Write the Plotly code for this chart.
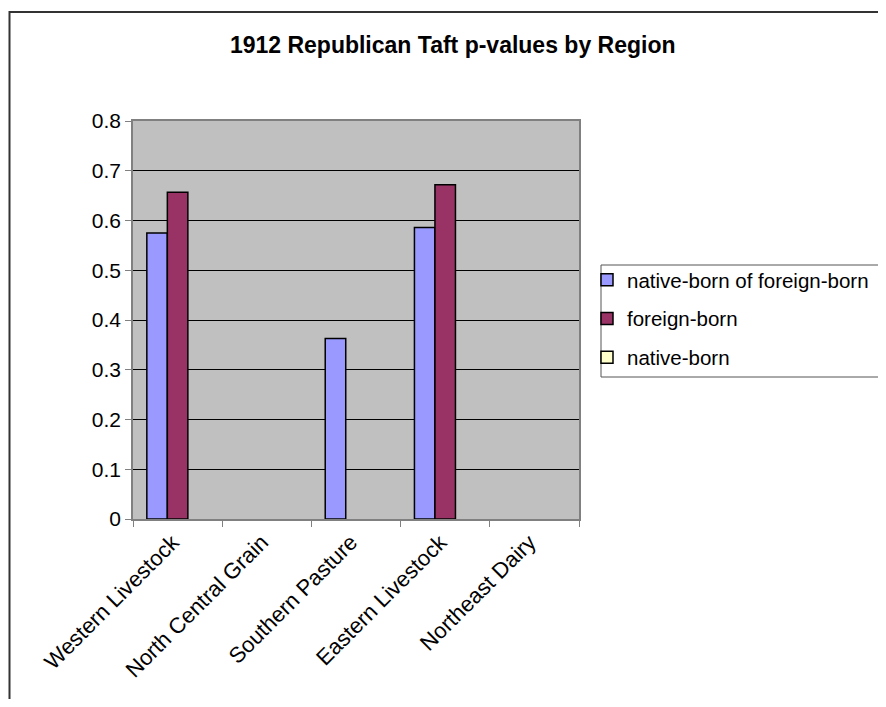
import plotly.graph_objects as go

categories = ["Western Livestock", "North Central Grain", "Southern Pasture", "Eastern Livestock", "Northeast Dairy"]
native_born_of_foreign_born = [0.575, None, 0.363, 0.586, None]
foreign_born = [0.657, None, None, 0.672, None]
native_born = [None, None, None, None, None]

series_names = ["native-born of foreign-born", "foreign-born", "native-born"]
series_values = [native_born_of_foreign_born, foreign_born, native_born]
series_colors = ["#9999FF", "#993366", "#FFFFCC"]

FONT = "Arial, 'Liberation Sans', sans-serif"

fig = go.Figure()
for name, vals, col in zip(series_names, series_values, series_colors):
    fig.add_trace(go.Bar(
        x=categories, y=vals, name=name, legendgroup=name,
        marker=dict(color=col, line=dict(color="black", width=1.5)),
    ))

# the plot div sits at the page's body margin; keep it inside the window
O = 8
PW, PH = 886, 707
W, H = PW - 2 * O, PH - 2 * O
# plot area in page pixels
L, R, T, B = 133, 579, 121, 519
pw, ph = R - L, B - T

def px(x):
    return (x - L) / pw

def py(y):
    return (B - y) / ph

fig.update_layout(
    width=W, height=H,
    margin=dict(l=L - O, r=(PW - O) - R, t=T - O, b=(PH - O) - B, pad=0, autoexpand=False),
    paper_bgcolor="white",
    plot_bgcolor="#C0C0C0",
    barmode="group", bargap=0.31, bargroupgap=0,
    font=dict(family=FONT, size=20, color="black"),
    title=dict(text="<b>1912 Republican Taft p-values by Region</b>",
               x=(452.7 - O) / W, xanchor="center", xref="container",
               y=1 - (45 - O) / H, yanchor="middle", yref="container",
               font=dict(family=FONT, size=23, color="black")),
    showlegend=True,
    legend=dict(x=px(587), xanchor="left", y=py(260), yanchor="top",
                bgcolor="rgba(0,0,0,0)", borderwidth=0,
                font=dict(family=FONT, size=20.5, color="black"),
                tracegroupgap=9, itemwidth=30),
    xaxis=dict(showgrid=False, showline=True, mirror=True, linecolor="#808080", linewidth=1.5,
               ticks="outside", ticklen=6, tickcolor="#808080", tickson="boundaries",
               tickangle=-45, ticklabelshift=-5, ticklabelstandoff=0,
               tickfont=dict(family=FONT, size=22, color="black")),
    yaxis=dict(range=[0, 0.8], dtick=0.1, showgrid=True, gridcolor="black", gridwidth=1,
               showline=True, mirror=True, linecolor="#808080", linewidth=1.5,
               ticks="outside", ticklen=6, tickcolor="#808080", zeroline=False,
               tickfont=dict(family=FONT, size=21, color="black")),
    shapes=[
        dict(type="rect", xref="paper", yref="paper",
             x0=px(9.5), x1=px(900), y0=py(12), y1=py(720),
             line=dict(color="#333333", width=2), fillcolor="rgba(0,0,0,0)", layer="below"),
        dict(type="rect", xref="paper", yref="paper",
             x0=px(601), x1=px(900), y0=py(265), y1=py(377),
             line=dict(color="#555555", width=1), fillcolor="white", layer="below"),
    ],
)

fig.write_html("out.html")
